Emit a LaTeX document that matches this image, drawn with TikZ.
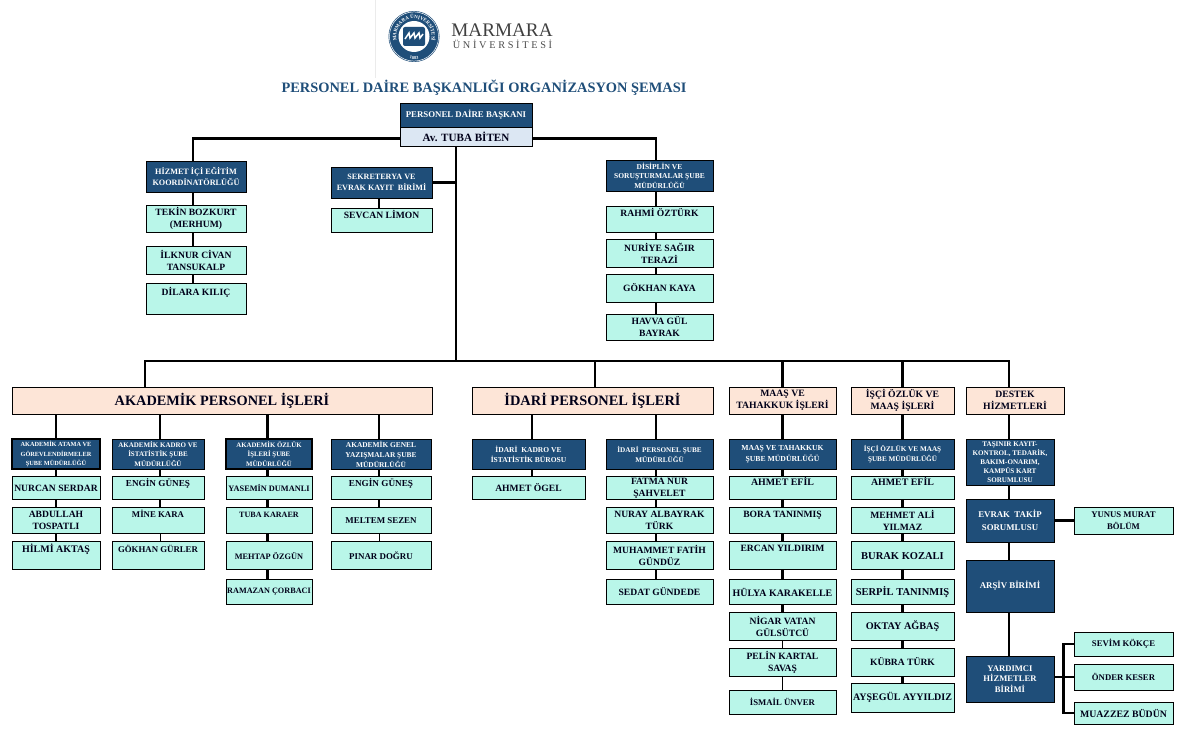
\documentclass[tikz,border=0pt]{standalone}
\usepackage{fontspec}
\setmainfont{Liberation Serif}
\newfontfamily\logofont[LetterSpace=26]{Liberation Serif}
\usetikzlibrary{positioning,calc,decorations.text}
\definecolor{navy}{HTML}{1F4E79}
\definecolor{mint}{HTML}{B9F6E9}
\definecolor{peach}{HTML}{FDE5D7}
\definecolor{pale}{HTML}{DCE7F3}

\begin{document}
\begin{tikzpicture}[
    x=1pt, y=-1pt,
    fs/.style 2 args={font=\fontsize{#1}{#2}\selectfont\bfseries},
    wd/.style={minimum width=#1},
    hg/.style={minimum height=#1},
    up/.style={text depth=#1},
    box/.style={rectangle, draw=black, line width=0.9pt, inner sep=0pt, align=center},
    staff/.style={box, fill=mint, text=black!90!blue, fs={9.6}{12}},
    boss/.style={box, fill=navy, text=white, fs={7.5}{10}},
    head/.style={box, fill=peach, text=black!90!blue, fs={9.7}{12}},
    line/.style={draw, line width=2.4pt},
    thin line/.style={draw, line width=1pt}
]
\useasboundingbox (0,0) rectangle (1181,741);

% Logo
\draw[black!8, line width=0.8pt] (375,0) -- (375,78);
\fill[navy] (414,36.5) circle (25.5);
\draw[white, line width=0.5pt] (414,36.5) circle (24.6);
\fill[white] (414,36.5) circle (15.5);
\fill[navy, rounded corners=2pt] (403,27) rectangle (425,46);
\draw[white, line width=1.5pt] (405,39) -- (409,33) -- (410,38) -- (414,33) -- (415,38) -- (419,33) -- (420,38) -- (423,34);
\begin{scope}[shift={(414,36.5)}, y=1pt]
  \path[decorate, decoration={text along path, text color=white, text align=center,
      text={|\fontsize{5}{6}\selectfont\bfseries|MARMARA ÜNİVERSİTESİ}}] (208:17.8) arc (208:-28:17.8);
  \path[decorate, decoration={text along path, text color=white, text align=center,
      text={|\fontsize{4.5}{5}\selectfont\bfseries|1883}}] (235:22.6) arc (235:305:22.6);
\end{scope}
\node[text=black!75, font=\fontsize{19.2}{22}\selectfont, inner sep=0pt] (marmara) at (502,30.5) {MARMARA};
\node[text=black!70, font=\logofont\fontsize{10.3}{12}\selectfont, inner sep=0pt] (universite) at (502.5,44.5) {ÜNİVERSİTESİ};
\node[text=navy, fs={14.4}{16}, inner sep=0pt] (title) at (484,88) {PERSONEL DAİRE BAŞKANLIĞI ORGANİZASYON ŞEMASI};

% Nodes
\node[boss, wd=132pt, hg=24pt, fs={8.8}{10}] (chief) at (466,115) {PERSONEL DAİRE BAŞKANI};
\node[box, fill=pale, text=black!90!blue, wd=132pt, hg=19pt, fs={11.1}{12}] (tuba) at (466,136.5) {Av. TUBA BİTEN};

\node[boss, wd=100pt, hg=31pt, fs={8.2}{11}] (hizmet) at (196,176.5) {HİZMET İÇİ EĞİTİM\\KOORDİNATÖRLÜĞÜ};
\node[staff, wd=100pt, hg=27pt] (tekin) at (196,218.5) {TEKİN BOZKURT\\(MERHUM)};
\node[staff, wd=100pt, hg=28pt] (ilknur) at (196,260) {İLKNUR CİVAN\\TANSUKALP};
\node[staff, wd=100pt, hg=31pt, up=14pt] (dilara) at (196,298.5) {DİLARA KILIÇ};

\node[boss, wd=101pt, hg=31pt, fs={8.1}{11}] (sekreterya) at (381.5,182.5) {SEKRETERYA VE\\EVRAK KAYIT\ \ BİRİMİ};
\node[staff, wd=101pt, hg=24pt, up=12pt] (sevcan) at (381.5,220) {SEVCAN LİMON};

\node[boss, wd=107pt, hg=31pt, fs={7.5}{9.5}] (disiplin) at (659.5,175.5) {DİSİPLİN VE\\SORUŞTURMALAR ŞUBE\\MÜDÜRLÜĞÜ};
\node[staff, wd=107pt, hg=26pt, up=14pt] (rahmi) at (659.5,219) {RAHMİ ÖZTÜRK};
\node[staff, wd=107pt, hg=28pt] (nuriye) at (659.5,253) {NURİYE SAĞIR\\TERAZİ};
\node[staff, wd=107pt, hg=28pt] (gokhan) at (659.5,288) {GÖKHAN KAYA};
\node[staff, wd=107pt, hg=26pt] (havva) at (659.5,327) {HAVVA GÜL\\BAYRAK};

\coordinate (trunkend) at (456,361);

\node[head, wd=420pt, hg=27pt, fs={14.3}{18}] (akademik) at (222,400.5) {AKADEMİK PERSONEL İŞLERİ};
\node[head, wd=241pt, hg=27pt, fs={14.4}{18}] (idari) at (592.5,400.5) {İDARİ PERSONEL İŞLERİ};
\node[head, wd=107pt, hg=27pt] (maas) at (782.5,400.5) {MAAŞ VE\\TAHAKKUK İŞLERİ};
\node[head, wd=103pt, hg=27pt] (isci) at (902.5,400.5) {İŞÇİ ÖZLÜK VE\\MAAŞ İŞLERİ};
\node[head, wd=98pt, hg=27pt] (destek) at (1015,400.5) {DESTEK\\HİZMETLERİ};

% Akademik
\node[boss, wd=88pt, hg=30pt, line width=2pt, fs={6.3}{9.5}] (atama) at (56,454) {AKADEMİK ATAMA VE\\GÖREVLENDİRMELER\\ŞUBE MÜDÜRLÜĞÜ};
\node[staff, wd=88pt, hg=23pt] (nurcan) at (56,488) {NURCAN SERDAR};
\node[staff, wd=88pt, hg=26.5pt] (abdullah) at (56,520.2) {ABDULLAH\\TOSPATLI};
\node[staff, wd=88pt, hg=28pt, up=14pt, fs={10}{12}] (hilmi) at (56,555.7) {HİLMİ AKTAŞ};

\node[boss, wd=92pt, hg=30pt, fs={7}{9.8}] (akkadro) at (158,454) {AKADEMİK KADRO VE\\İSTATİSTİK ŞUBE\\MÜDÜRLÜĞÜ};
\node[staff, wd=92pt, hg=23pt, up=10pt, fs={9.2}{12}] (engina) at (158,488) {ENGİN GÜNEŞ};
\node[staff, wd=92pt, hg=26.5pt, up=12pt, fs={8.8}{12}] (mine) at (158,520.2) {MİNE KARA};
\node[staff, wd=92pt, hg=28pt, up=14pt, fs={8.8}{12}] (gokhanb) at (158,555.7) {GÖKHAN GÜRLER};

\node[boss, wd=86pt, hg=30pt, line width=2pt, fs={6.8}{9.8}] (akozluk) at (269,454) {AKADEMİK ÖZLÜK\\İŞLERİ ŞUBE\\MÜDÜRLÜĞÜ};
\node[staff, wd=86pt, hg=23pt, fs={8.3}{12}] (yasemin) at (269,488) {YASEMİN DUMANLI};
\node[staff, wd=86pt, hg=26.5pt, up=10pt, fs={8.1}{12}] (tubak) at (269,520.2) {TUBA KARAER};
\node[staff, wd=86pt, hg=28pt, fs={8.3}{12}] (mehtap) at (269,555.7) {MEHTAP ÖZGÜN};
\node[staff, wd=86pt, hg=25pt, fs={8.2}{12}] (ramazan) at (269,592) {RAMAZAN ÇORBACI};

\node[boss, wd=100pt, hg=30pt, fs={7.4}{10}] (akgenel) at (381,454) {AKADEMİK GENEL\\YAZIŞMALAR ŞUBE\\MÜDÜRLÜĞÜ};
\node[staff, wd=100pt, hg=23pt, up=10pt, fs={9.2}{12}] (enginb) at (381,488) {ENGİN GÜNEŞ};
\node[staff, wd=100pt, hg=26.5pt, fs={8.9}{12}] (meltem) at (381,520.2) {MELTEM SEZEN};
\node[staff, wd=100pt, hg=28pt, fs={8.9}{12}] (pinar) at (381,555.7) {PINAR DOĞRU};

% Idari
\node[boss, wd=113pt, hg=30pt, fs={7.5}{10}] (idkadro) at (528.5,454) {İDARİ\ \ KADRO VE\\İSTATİSTİK BÜROSU};
\node[staff, wd=113pt, hg=23pt] (ogel) at (528.5,488) {AHMET ÖGEL};

\node[boss, wd=107pt, hg=30pt, fs={7.2}{10}] (idpers) at (659.5,454) {İDARİ\ \ PERSONEL ŞUBE\\MÜDÜRLÜĞÜ};
\node[staff, wd=107pt, hg=23pt] (fatma) at (659.5,488) {FATMA NUR\\ŞAHVELET};
\node[staff, wd=107pt, hg=26.5pt] (nuray) at (659.5,520.2) {NURAY ALBAYRAK\\TÜRK};
\node[staff, wd=107pt, hg=28pt] (muhammet) at (659.5,555.7) {MUHAMMET FATİH\\GÜNDÜZ};
\node[staff, wd=107pt, hg=25pt] (sedat) at (659.5,592) {SEDAT GÜNDEDE};

% Maas
\node[boss, wd=107pt, hg=30pt, fs={7.7}{10.5}] (mtahakkuk) at (782.5,454) {MAAŞ VE TAHAKKUK\\ŞUBE MÜDÜRLÜĞÜ};
\node[staff, wd=107pt, hg=23pt, up=14pt, fs={9.9}{12}] (efila) at (782.5,488) {AHMET EFİL};
\node[staff, wd=107pt, hg=26.5pt, up=12pt] (bora) at (782.5,520.2) {BORA TANINMIŞ};
\node[staff, wd=107pt, hg=28pt, up=14pt] (ercan) at (782.5,555.7) {ERCAN YILDIRIM};
\node[staff, wd=107pt, hg=25pt, fs={9.9}{12}] (hulya) at (782.5,592) {HÜLYA KARAKELLE};
\node[staff, wd=107pt, hg=28pt] (nigar) at (782.5,626) {NİGAR VATAN\\GÜLSÜTCÜ};
\node[staff, wd=107pt, hg=28pt] (pelin) at (782.5,662) {PELİN KARTAL\\SAVAŞ};
\node[staff, wd=107pt, hg=24pt, fs={8.7}{12}] (ismail) at (782.5,702) {İSMAİL ÜNVER};

% Isci
\node[boss, wd=103pt, hg=30pt, fs={7.2}{10}] (iscisube) at (902.5,454) {İŞÇİ ÖZLÜK VE MAAŞ\\ŞUBE MÜDÜRLÜĞÜ};
\node[staff, wd=103pt, hg=23pt, up=14pt, fs={9.9}{12}] (efilb) at (902.5,488) {AHMET EFİL};
\node[staff, wd=103pt, hg=26.5pt] (mehmet) at (902.5,520.2) {MEHMET ALİ\\YILMAZ};
\node[staff, wd=103pt, hg=28pt, fs={10.5}{12}] (burak) at (902.5,555.7) {BURAK KOZALI};
\node[staff, wd=103pt, hg=25pt, fs={10.5}{12}] (serpil) at (902.5,592) {SERPİL TANINMIŞ};
\node[staff, wd=103pt, hg=28pt, fs={10.2}{12}] (oktay) at (902.5,626) {OKTAY AĞBAŞ};
\node[staff, wd=103pt, hg=28pt] (kubra) at (902.5,662) {KÜBRA TÜRK};
\node[staff, wd=103pt, hg=29pt, fs={10}{12}] (aysegul) at (902.5,697.5) {AYŞEGÜL AYYILDIZ};

% Destek
\node[boss, wd=88pt, hg=46pt, fs={7.1}{9}] (tasinir) at (1010,462) {TAŞINIR KAYIT-\\KONTROL, TEDARİK,\\BAKIM-ONARIM,\\KAMPÜS KART\\SORUMLUSU};
\node[boss, wd=88pt, hg=43pt, fs={8.8}{12.5}] (evrak) at (1010,520.5) {EVRAK\ \ TAKİP\\SORUMLUSU};
\node[boss, wd=88pt, hg=52pt, fs={8.8}{10}] (arsiv) at (1010,586) {ARŞİV BİRİMİ};
\node[boss, wd=88pt, hg=46pt, fs={8.6}{10.5}] (yardimci) at (1010,679) {YARDIMCI\\HİZMETLER\\BİRİMİ};
\node[staff, wd=99pt, hg=27pt, fs={8.7}{12}] (yunus) at (1123.5,520.5) {YUNUS MURAT\\BÖLÜM};
\node[staff, wd=99pt, hg=24pt, fs={8.7}{12}] (sevim) at (1123.5,644) {SEVİM KÖKÇE};
\node[staff, wd=99pt, hg=26pt, fs={8.7}{12}] (onder) at (1123.5,677) {ÖNDER KESER};
\node[staff, wd=99pt, hg=22pt, fs={9.8}{12}] (muazzez) at (1123.5,713) {MUAZZEZ BÜDÜN};

% Lines
\draw[line] ([yshift=-2pt]tuba.west) -| ([xshift=-3pt]hizmet.north);
\draw[line] ([yshift=-2pt]tuba.east) -| ([xshift=-3.5pt]disiplin.north);
\draw[line] ([xshift=-10pt]tuba.south) -- (trunkend);
\draw[line] (sekreterya.east) -- (sekreterya.east -| trunkend);
\draw[line] ([xshift=-3pt]hizmet.south) -- ([xshift=-3pt]tekin.north);
\draw[line] ([xshift=-3pt]tekin.south) -- ([xshift=-3pt]ilknur.north);
\draw[line] ([xshift=-3pt]ilknur.south) -- ([xshift=-3pt]dilara.north);
\draw[line] ([xshift=-2.5pt]sekreterya.south) -- ([xshift=-2.5pt]sevcan.north);
\draw[line] ([xshift=-3.5pt]disiplin.south) -- ([xshift=-3.5pt]rahmi.north);
\draw[line] ([xshift=-3.5pt]rahmi.south) -- ([xshift=-3.5pt]nuriye.north);
\draw[line] ([xshift=-3.5pt]nuriye.south) -- ([xshift=-3.5pt]gokhan.north);
\draw[line] ([xshift=-3.5pt]gokhan.south) -- ([xshift=-3.5pt]havva.north);

% Bus
\draw[line] ([xshift=-77pt]akademik.north) |- (trunkend);
\draw[line] ([xshift=2.5pt]idari.north) |- (trunkend);
\draw[line] (maas.north) |- (trunkend);
\draw[line] (isci.north) |- (trunkend);
\draw[line] ([xshift=-6pt]destek.north) |- (trunkend);

% Lines down the columns
\draw[line] (akademik.south -| atama.north) -- (atama.north);
\draw[line] (atama) -- (nurcan);
\draw[line] (nurcan) -- (abdullah);
\draw[line] (abdullah) -- (hilmi);

\draw[line] ([xshift=2pt]akkadro.north |- akademik.south) -- ([xshift=2pt]akkadro.north);
\draw[line] ([xshift=2pt]akkadro.south) -- ([xshift=2pt]engina.north);
\draw[line] ([xshift=2pt]engina.south) -- ([xshift=2pt]mine.north);
\draw[thin line] ([xshift=2pt]mine.south) -- ([xshift=2pt]gokhanb.north);

\draw[line] ([xshift=-1.5pt]akozluk.north |- akademik.south) -- ([xshift=-1.5pt]akozluk.north);
\draw[line] ([xshift=-1.5pt]akozluk.south) -- ([xshift=-1.5pt]yasemin.north);
\draw[line] ([xshift=-1.5pt]yasemin.south) -- ([xshift=-1.5pt]tubak.north);
\draw[line] ([xshift=-1.5pt]tubak.south) -- ([xshift=-1.5pt]mehtap.north);
\draw[line] ([xshift=-1.5pt]mehtap.south) -- ([xshift=-1.5pt]ramazan.north);

\draw[line] ([xshift=-2pt]akgenel.north |- akademik.south) -- ([xshift=-2pt]akgenel.north);
\draw[line] ([xshift=-2pt]akgenel.south) -- ([xshift=-2pt]enginb.north);
\draw[line] ([xshift=-2pt]enginb.south) -- ([xshift=-2pt]meltem.north);
\draw[thin line] ([xshift=-2pt]meltem.south) -- ([xshift=-2pt]pinar.north);

\draw[line] ([xshift=3.5pt]idkadro.north |- idari.south) -- ([xshift=3.5pt]idkadro.north);
\draw[line] ([xshift=3.5pt]idkadro.south) -- ([xshift=3.5pt]ogel.north);

\draw[line] ([xshift=-3.5pt]idpers.north |- idari.south) -- ([xshift=-3.5pt]idpers.north);
\draw[line] ([xshift=-3.5pt]idpers.south) -- ([xshift=-3.5pt]fatma.north);
\draw[line] ([xshift=-3.5pt]fatma.south) -- ([xshift=-3.5pt]nuray.north);
\draw[line] ([xshift=-3.5pt]nuray.south) -- ([xshift=-3.5pt]muhammet.north);
\draw[line] ([xshift=-3.5pt]muhammet.south) -- ([xshift=-3.5pt]sedat.north);

\draw[line] (maas) -- (mtahakkuk);
\draw[line] (mtahakkuk) -- (efila);
\draw[line] (efila) -- (bora);
\draw[line] (bora) -- (ercan);
\draw[line] (ercan) -- (hulya);
\draw[line] (hulya) -- (nigar);
\draw[thin line] (nigar) -- (pelin);
\draw[thin line] (pelin) -- (ismail);

\draw[line] (isci) -- (iscisube);
\draw[line] (iscisube) -- (efilb);
\draw[line] (efilb) -- (mehmet);
\draw[line] (mehmet) -- (burak);
\draw[line] (burak) -- (serpil);
\draw[line] (serpil) -- (oktay);
\draw[line] (oktay) -- (kubra);
\draw[line] (kubra) -- (aysegul);

\draw[line] ([xshift=-1pt]tasinir.north |- destek.south) -- ([xshift=-1pt]tasinir.north);
\draw[line] ([xshift=-1pt]tasinir.south) -- ([xshift=-1pt]evrak.north);
\draw[line] ([xshift=-1pt]evrak.south) -- ([xshift=-1pt]arsiv.north);
\draw[line] ([xshift=-1pt]arsiv.south) -- ([xshift=-1pt]yardimci.north);
\draw[line] (evrak) -- (yunus);
\draw[line] (yardimci.east |- onder.west) -- (onder.west);
\draw[line] (sevim.west) -- ++(-10,0) |- (muazzez.west);

\end{tikzpicture}
\end{document}
